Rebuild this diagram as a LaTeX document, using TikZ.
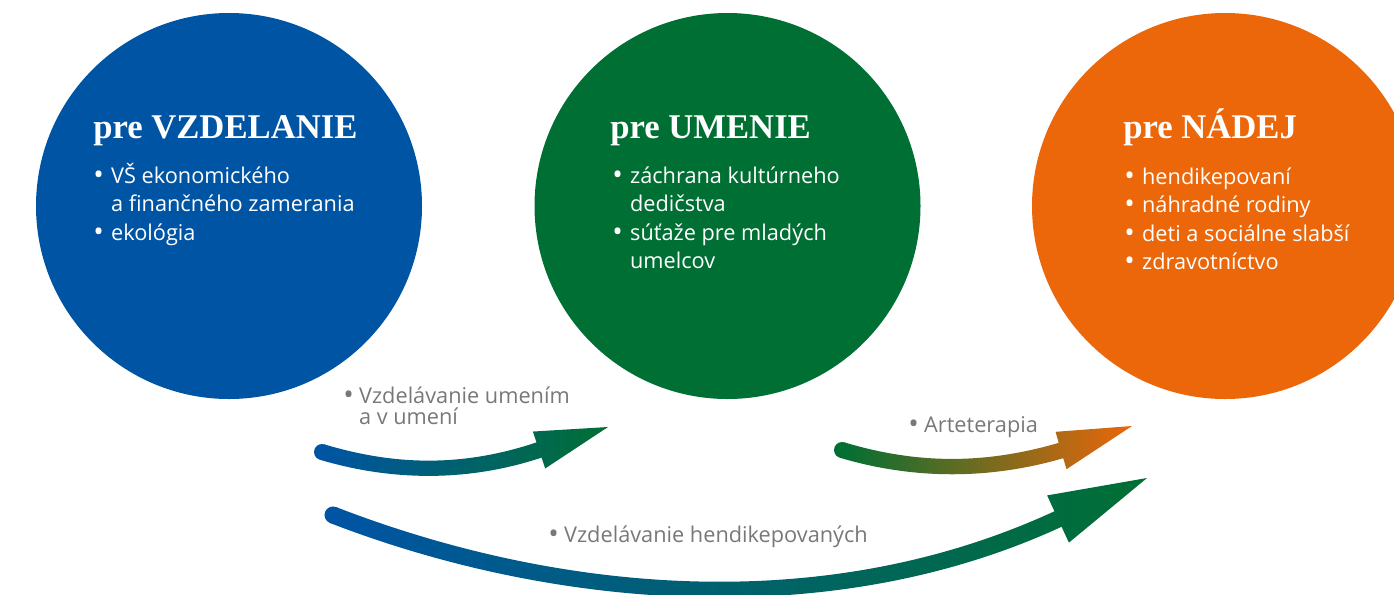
\documentclass[tikz,border=0pt]{standalone}
\usepackage{fontspec}
\setmainfont{Liberation Serif}
\setsansfont{Open Sans}
\usetikzlibrary{calc,positioning}

\definecolor{modra}{RGB}{0,84,164}
\definecolor{zelena}{RGB}{0,111,51}
\definecolor{oranzova}{RGB}{235,103,10}
\definecolor{seda}{RGB}{120,120,120}

\newcommand{\odr}{\raisebox{-0.9pt}{\fontsize{21}{21}\selectfont\textbullet}}

\newcommand{\sipka}[9]{%
    \coordinate (sl) at ($(#1)!#6!90:(#2)$);
    \coordinate (sr) at ($(#1)!#6!-90:(#2)$);
    \coordinate (ml) at ($(#4)!#6!-90:(#3)$);
    \coordinate (mr) at ($(#4)!#6!90:(#3)$);
    \coordinate (hl) at ($(#4)!#7!-90:(#3)$);
    \coordinate (hr) at ($(#4)!#7!90:(#3)$);
    \fill[#8] (#1) circle[radius=#6];
    \shade[left color=#8, right color=#9]
        (sl) .. controls ($(#2)+(sl)-(#1)$) and ($(#3)+(ml)-(#4)$) .. (ml)
        -- (hl) -- (#5) -- (hr) -- (mr)
        .. controls ($(#3)+(mr)-(#4)$) and ($(#2)+(sr)-(#1)$) .. (sr) -- cycle;
}

\begin{document}
\begin{tikzpicture}[x=0.75pt, y=0.75pt,
    kruh/.style={circle, minimum size=289.5pt, inner sep=0pt, outer sep=0pt},
    nadpis/.style={anchor=base west, inner sep=0pt, text=white,
        font=\bfseries\fontsize{26}{30}\selectfont},
    zoznam/.style={anchor=base west, inner sep=0pt, text=white,
        font=\sffamily\fontsize{16.3}{21.4}\selectfont},
    popis/.style={anchor=base west, inner sep=0pt, text=seda,
        font=\sffamily\fontsize{16.3}{15}\selectfont}
    ]
    \useasboundingbox (0,0) rectangle (1394,-594);
    \clip (0,0) rectangle (1394,-594);

    \node[kruh, fill=modra] (vzdelanie) at (229,-206) {};
    \node[kruh, fill=zelena] (umenie) at (727.5,-206) {};
    \node[kruh, fill=oranzova] (nadej) at (1225,-206) {};

    \node[nadpis] (t1) at ($(vzdelanie.center)+(-136,68)$) {pre VZDELANIE};
    \node[zoznam] (z1) at ($(t1.base west)+(0,-45)$) {%
        \begin{tabular}[t]{@{}l@{\hspace{5.5pt}}l@{}}
        \odr & VŠ ekonomického\\
        & a finančného zamerania\\
        \odr & ekológia
        \end{tabular}};

    \node[nadpis] (t2) at ($(umenie.center)+(-117.5,68)$) {pre UMENIE};
    \node[zoznam] (z2) at ($(t2.base west)+(2,-45)$) {%
        \begin{tabular}[t]{@{}l@{\hspace{5.5pt}}l@{}}
        \odr & záchrana kultúrneho\\
        & dedičstva\\
        \odr & súťaže pre mladých\\
        & umelcov
        \end{tabular}};

    \node[nadpis] (t3) at ($(nadej.center)+(-102,68)$) {pre NÁDEJ};
    \node[zoznam] (z3) at ($(t3.base west)+(1,-46)$) {%
        \begin{tabular}[t]{@{}l@{\hspace{5.5pt}}l@{}}
        \odr & hendikepovaní\\
        \odr & náhradné rodiny\\
        \odr & deti a sociálne slabší\\
        \odr & zdravotníctvo
        \end{tabular}};

    \coordinate (a1s) at (322,-452);
    \coordinate (a1c1) at (392,-473);
    \coordinate (a1c2) at (464,-475);
    \coordinate (a1m) at (539,-450);
    \coordinate (a1t) at (608,-427);
    \sipka{a1s}{a1c1}{a1c2}{a1m}{a1t}{6pt}{14.6pt}{modra}{zelena}

    \coordinate (a2s) at (842,-450);
    \coordinate (a2c1) at (912,-471);
    \coordinate (a2c2) at (984,-473);
    \coordinate (a2m) at (1061,-450.5);
    \coordinate (a2t) at (1132,-426);
    \sipka{a2s}{a2c1}{a2c2}{a2m}{a2t}{6pt}{14.6pt}{zelena}{oranzova}

    \coordinate (a3s) at (333,-515);
    \coordinate (a3c1) at (547,-598);
    \coordinate (a3c2) at (822,-628);
    \coordinate (a3m) at (1058,-519);
    \coordinate (a3t) at (1147,-478);
    \sipka{a3s}{a3c1}{a3c2}{a3m}{a3t}{6.4pt}{19.5pt}{modra}{zelena}

    \node[popis] (p1) at (343,-403) {%
        \begin{tabular}[t]{@{}l@{\hspace{4pt}}l@{}}
        \odr & Vzdelávanie umením\\[-1pt]
        & a v umení
        \end{tabular}};
    \node[popis] (p2) at (908,-432) {%
        \begin{tabular}[t]{@{}l@{\hspace{4pt}}l@{}}
        \odr & Arteterapia
        \end{tabular}};
    \node[popis] (p3) at (548,-542) {%
        \begin{tabular}[t]{@{}l@{\hspace{4pt}}l@{}}
        \odr & Vzdelávanie hendikepovaných
        \end{tabular}};
\end{tikzpicture}
\end{document}
